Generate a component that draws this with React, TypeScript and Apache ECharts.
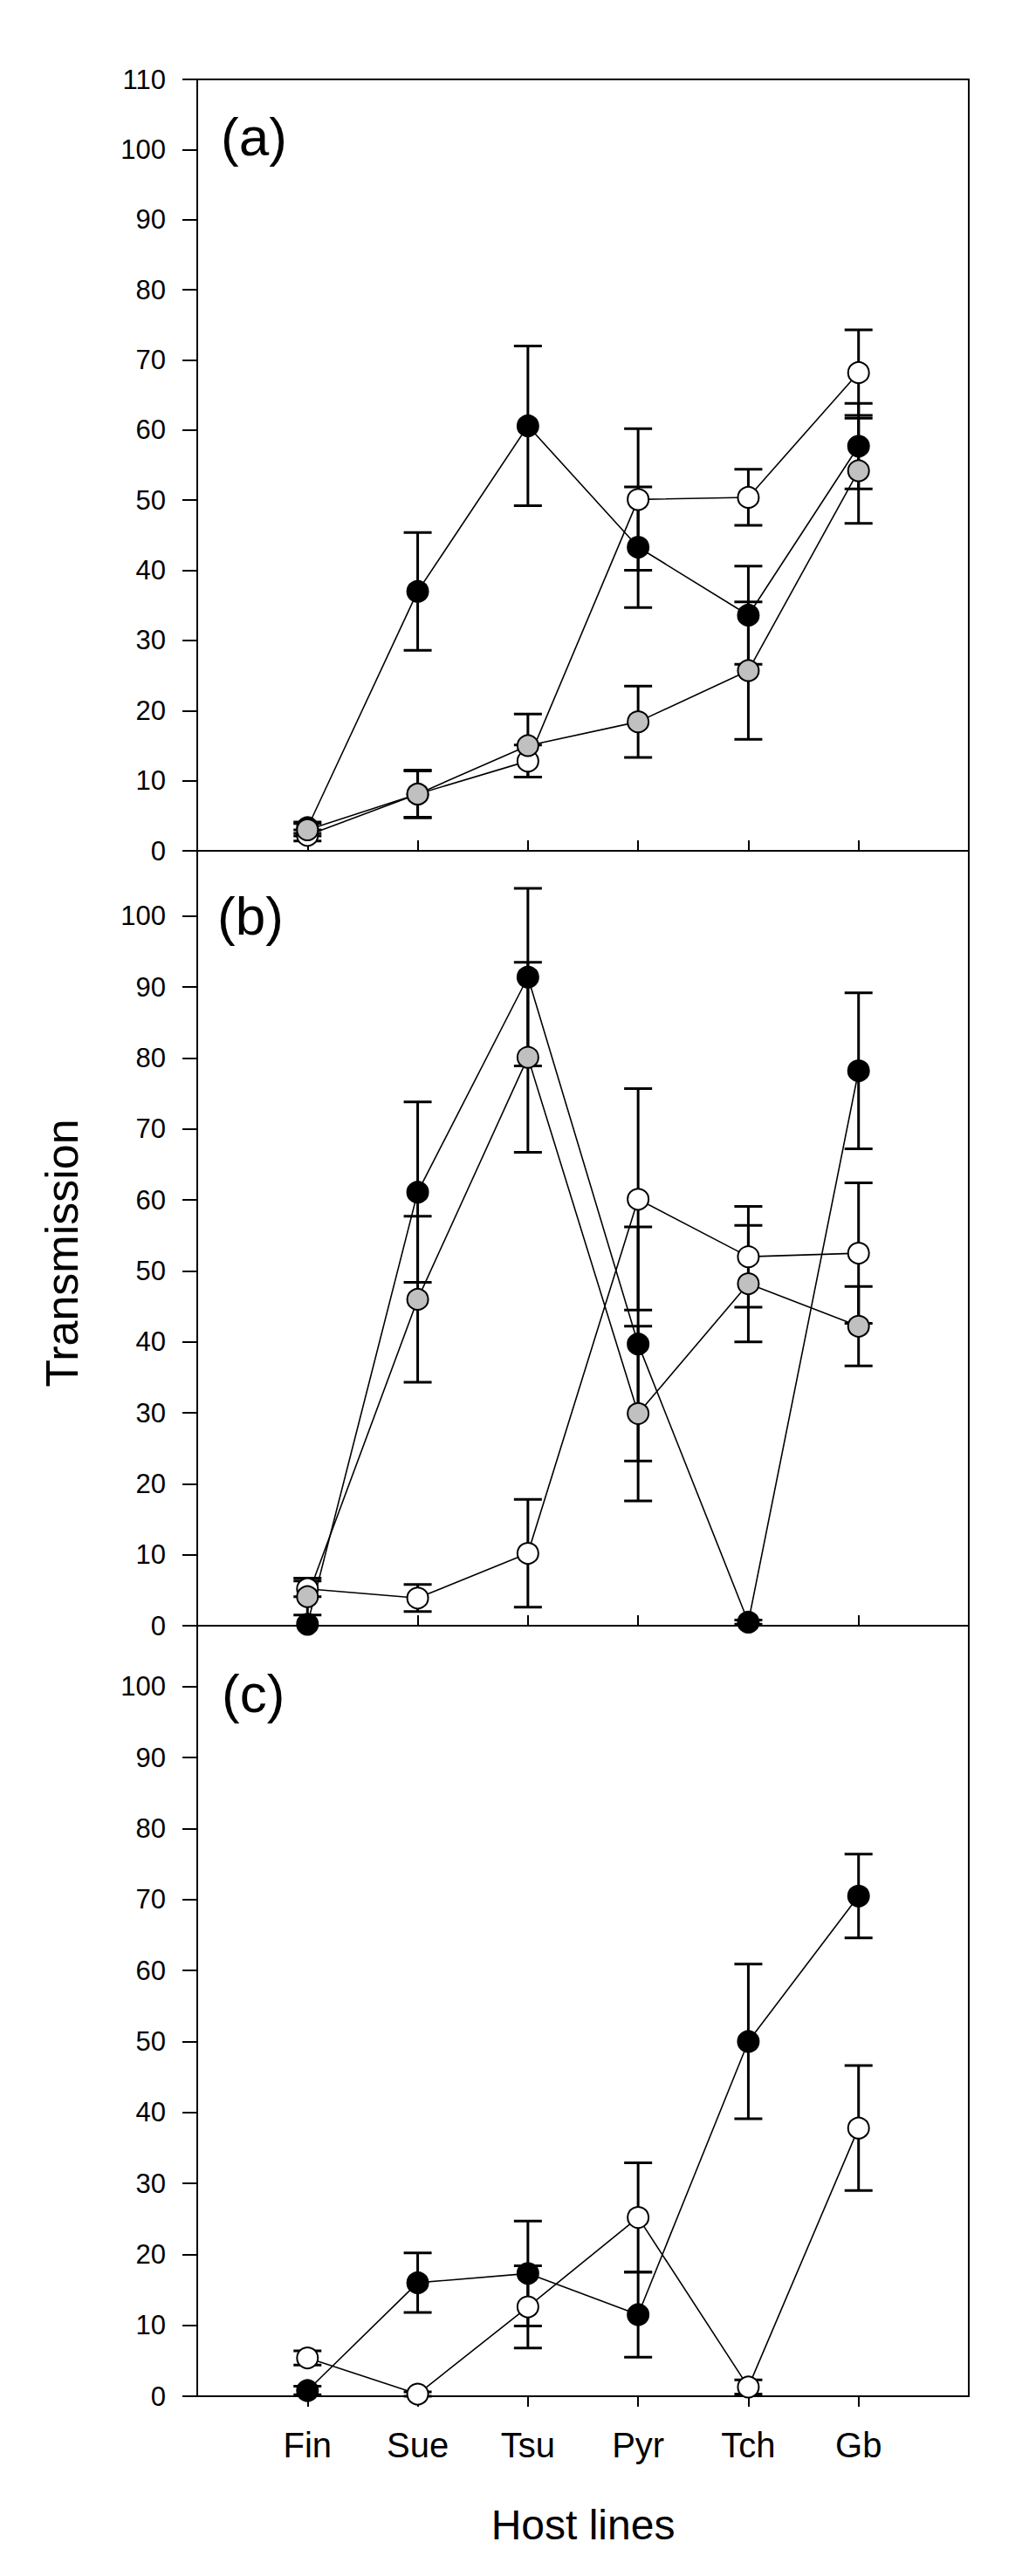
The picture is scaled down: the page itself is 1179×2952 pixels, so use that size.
import React, { useEffect, useRef } from 'react';
import * as echarts from 'echarts';

const categories = ['Fin', 'Sue', 'Tsu', 'Pyr', 'Tch', 'Gb'];
const xPositions = [1, 2, 3, 4, 5, 6];

// Panel (a)
const aOpen = [2.2, 8.1, 12.8, 50.1, 50.4, 68.2];
const aOpenErr = [0.8, 3.3, 2.3, 10.1, 4.0, 6.1];
const aBlack = [3.3, 37.0, 60.6, 43.3, 33.6, 57.7];
const aBlackErr = [0.8, 8.4, 11.4, 8.6, 7.0, 6.1];
const aGray = [3.0, 8.1, 15.0, 18.4, 25.7, 54.2];
const aGrayErr = [0.9, 3.4, 4.5, 5.1, 9.8, 7.5];

// Panel (b)
const bOpen = [5.2, 3.9, 10.2, 60.1, 52.0, 52.5];
const bOpenErr = [1.1, 1.9, 7.6, 15.6, 7.1, 9.9];
const bBlack = [0.2, 61.1, 91.4, 39.7, 0.5, 78.2];
const bBlackErr = [0, 12.7, 12.5, 16.5, 0.3, 11.0];
const bGray = [4.1, 46.0, 80.1, 29.9, 48.2, 42.2];
const bGrayErr = [2.6, 11.7, 13.4, 12.3, 8.2, 5.6];

// Panel (c)
const cOpen = [5.4, 0.3, 12.6, 25.2, 1.3, 37.8];
const cOpenErr = [1.0, 0.3, 5.8, 7.7, 1.0, 8.8];
const cBlack = [0.8, 16.0, 17.3, 11.5, 50.0, 70.5];
const cBlackErr = [0.6, 4.2, 7.4, 6.0, 10.9, 5.9];

const yTicksA = [0, 10, 20, 30, 40, 50, 60, 70, 80, 90, 100, 110];
const yTicksBC = [0, 10, 20, 30, 40, 50, 60, 70, 80, 90, 100];
const panelLabels = ['(a)', '(b)', '(c)'];

const W = 1179;
const H = 2952;
const FONT = '"Liberation Sans", Arial, sans-serif';

type S = { values: number[]; err: number[]; fill: string };

const panels: {
  top: number;
  height: number;
  max: number;
  ticks: number[];
  labelX: number;
  labelY: number;
  series: S[];
}[] = [
  {
    top: 91, height: 884, max: 110, ticks: yTicksA, labelX: 253, labelY: 156,
    series: [
      { values: aOpen, err: aOpenErr, fill: '#ffffff' },
      { values: aBlack, err: aBlackErr, fill: '#000000' },
      { values: aGray, err: aGrayErr, fill: '#c0c0c0' },
    ],
  },
  {
    top: 975, height: 888, max: 109.2, ticks: yTicksBC, labelX: 249, labelY: 1049,
    series: [
      { values: bOpen, err: bOpenErr, fill: '#ffffff' },
      { values: bBlack, err: bBlackErr, fill: '#000000' },
      { values: bGray, err: bGrayErr, fill: '#c0c0c0' },
    ],
  },
  {
    top: 1863, height: 883, max: 108.6, ticks: yTicksBC, labelX: 254, labelY: 1940,
    series: [
      { values: cOpen, err: cOpenErr, fill: '#ffffff' },
      { values: cBlack, err: cBlackErr, fill: '#000000' },
    ],
  },
];

function buildOption() {
  const grid: any[] = [];
  const xAxis: any[] = [];
  const yAxis: any[] = [];
  const series: any[] = [];
  const graphic: any[] = [];

  panels.forEach((p, i) => {
    grid.push({
      left: 226, width: 884, top: p.top, height: p.height,
      show: true, borderColor: '#000', borderWidth: 2, backgroundColor: 'transparent',
    });
    xAxis.push({
      gridIndex: i, type: 'value', min: 0, max: 7,
      axisLine: { show: true, onZero: false, lineStyle: { color: '#000', width: 2 } },
      axisTick: { show: true, inside: i < 2, length: 12, lineStyle: { color: '#000', width: 2 }, customValues: xPositions },
      axisLabel: {
        show: i === 2, customValues: xPositions, margin: 36, fontSize: 40, color: '#000', fontFamily: FONT,
        formatter: (v: number) => categories[Math.round(v) - 1] ?? '',
      },
      splitLine: { show: false },
    });
    yAxis.push({
      gridIndex: i, type: 'value', min: 0, max: p.max,
      axisLine: { show: true, onZero: false, lineStyle: { color: '#000', width: 2 } },
      axisTick: { show: true, inside: false, length: 17, lineStyle: { color: '#000', width: 2 }, customValues: p.ticks },
      axisLabel: { customValues: p.ticks, margin: 36, fontSize: 31, color: '#000', fontFamily: FONT },
      splitLine: { show: false },
    });

    p.series.forEach((s) => {
      series.push({
        type: 'line', xAxisIndex: i, yAxisIndex: i, z: 2,
        showSymbol: false, symbol: 'none',
        lineStyle: { color: '#000', width: 1.6 },
        data: s.values.map((v, k) => [xPositions[k], v]),
      });
    });
    p.series.forEach((s) => {
      series.push({
        type: 'custom', xAxisIndex: i, yAxisIndex: i, z: 3,
        data: s.values.map((v, k) => [xPositions[k], v, s.err[k]]),
        renderItem: (params: any, api: any) => {
          const x = api.value(0);
          const y = api.value(1);
          const e = api.value(2);
          if (!e) return { type: 'group', children: [] };
          const t = api.coord([x, y + e]);
          const b = api.coord([x, y - e]);
          const hw = 16;
          const st = { stroke: '#000', lineWidth: 3 };
          return {
            type: 'group',
            children: [
              { type: 'line', shape: { x1: t[0], y1: t[1], x2: b[0], y2: b[1] }, style: st },
              { type: 'line', shape: { x1: t[0] - hw, y1: t[1], x2: t[0] + hw, y2: t[1] }, style: st },
              { type: 'line', shape: { x1: b[0] - hw, y1: b[1], x2: b[0] + hw, y2: b[1] }, style: st },
            ],
          };
        },
      });
    });
    p.series.forEach((s) => {
      series.push({
        type: 'scatter', xAxisIndex: i, yAxisIndex: i, z: 4,
        symbol: 'circle', symbolSize: 24,
        itemStyle: { color: s.fill, borderColor: '#000', borderWidth: 2, opacity: 1 },
        data: s.values.map((v, k) => [xPositions[k], v]),
      });
    });

    graphic.push({
      type: 'text', x: p.labelX, y: p.labelY,
      style: { text: panelLabels[i], fontSize: 62, fontFamily: FONT, fill: '#000', align: 'left', verticalAlign: 'middle' },
    });
  });

  graphic.push({
    type: 'text', x: 71, y: 1436, rotation: Math.PI / 2,
    style: { text: 'Transmission', fontSize: 52, fontFamily: FONT, fill: '#000', align: 'center', verticalAlign: 'middle' },
  });
  graphic.push({
    type: 'text', x: 668, y: 2893,
    style: { text: 'Host lines', fontSize: 48, fontFamily: FONT, fill: '#000', align: 'center', verticalAlign: 'middle' },
  });

  return {
    animation: false,
    backgroundColor: '#ffffff',
    grid, xAxis, yAxis, series, graphic,
  };
}

export default function App() {
  const ref = useRef<HTMLDivElement>(null);
  useEffect(() => {
    document.body.style.margin = '0';
    const chart = echarts.init(ref.current as HTMLDivElement, null, { renderer: 'svg', width: W, height: H });
    chart.setOption(buildOption() as any);
    return () => chart.dispose();
  }, []);
  return <div ref={ref} style={{ width: W, height: H, position: 'absolute', left: 0, top: 0 }} />;
}
